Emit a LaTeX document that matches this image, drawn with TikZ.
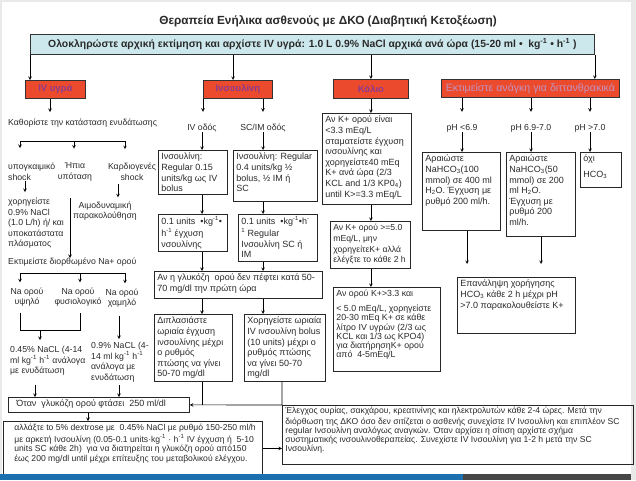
\documentclass[tikz,border=0pt]{standalone}
\usepackage{fontspec}
\setmainfont{Liberation Sans}
\usepackage{xcolor}
\usetikzlibrary{positioning,arrows.meta}

\definecolor{bannerblue}{HTML}{CDE8EC}
\definecolor{hdrred}{HTML}{EC4A2C}
\definecolor{hdrtext}{HTML}{8E3B8E}
\definecolor{bodytext}{HTML}{2A2A2A}
\definecolor{framegray}{HTML}{E9E9E9}
\definecolor{barblue}{HTML}{1C70AE}
\definecolor{bargray}{HTML}{474747}

\newcommand{\boxtxt}[3]{\parbox[t][#2][t]{#1}{\raggedright\strut #3}}

\begin{document}
\begin{tikzpicture}[
  x=1pt, y=-1pt,
  font=\fontsize{9}{10.6}\selectfont, text=bodytext,
  box/.style={draw=black!85, line width=0.8pt, anchor=north west, inner xsep=3pt, inner ysep=2pt},
  lbl/.style={anchor=north west, inner sep=0pt, align=left, font=\fontsize{8.7}{10.5}\selectfont},
  clbl/.style={inner sep=0pt, align=center, font=\fontsize{8.7}{10.5}\selectfont},
  hdr/.style={draw=black!80, line width=0.8pt, fill=hdrred, text=hdrtext, anchor=north west, inner sep=0pt, font=\bfseries\fontsize{9.5}{11}\selectfont},
  arr/.style={->, >=stealth, line width=0.6pt},
  link/.style={line width=0.6pt}
]
  \fill[framegray] (0,0) rectangle (636,480);
  \fill[white] (2,2) rectangle (631,474);
  \useasboundingbox (0,0) rectangle (636,480);

  \node[font=\bfseries\fontsize{11.8}{13}\selectfont] (title) at (328,21) {Θεραπεία Ενήλικα ασθενούς με ΔΚΟ (Διαβητική Κετοξέωση)};
  \node[draw=black!80, line width=0.8pt, fill=bannerblue, anchor=north west, minimum width=564pt, minimum height=20pt, inner sep=0pt, font=\bfseries\fontsize{10.4}{12}\selectfont] (banner) at (30,34) {Ολοκληρώστε αρχική εκτίμηση και αρχίστε IV υγρά: 1.0 L 0.9\% NaCl αρχικά ανά ώρα (15-20 ml •~ kg\textsuperscript{-1} • h\textsuperscript{-1} )};

  \node[hdr, minimum width=60pt, minimum height=18pt] (hiv) at (25,80) {IV υγρά};
  \node[hdr, minimum width=69pt, minimum height=18pt] (hins) at (203,80) {Ινσουλίνη};
  \node[hdr, minimum width=75pt, minimum height=19pt] (hk) at (333,79) {Κάλιο};
  \node[hdr, minimum width=178pt, minimum height=18pt, font=\fontsize{10.6}{12}\selectfont, text=hdrtext!55] (hbic) at (441,79) {Εκτιμείστε ανάγκη για διττανθρακικά};

  \foreach \n/\x in {gIV/50, gHypo/25, gMild/70, gCard/118, gHalf/35, gNorm/119, gDown/88, gBan/233, gBbA/467, gBbB/541}
    \coordinate (\n) at (\x,0);

  \node[lbl] (hyd) at (8,119) {Καθορίστε την κατάσταση ενυδάτωσης};
  \coordinate (t1) at (20,141);
  \coordinate (t2) at (74,141);
  \coordinate (t3) at (125,141);
  \node[lbl] (hypo) at (8,163) {υπογκαιμικό\\shock};
  \node[clbl] (mild) at (75,172) {Ήπια\\υπόταση};
  \node[clbl] (cardio) at (132,172) {Καρδιογενές\\shock};
  \node[lbl] (fluids) at (8,198) {χορηγείστε\\0.9\% NaCl\\(1.0 L/h) ή/ και\\υποκατάστατα\\πλάσματος};
  \node[clbl] (hemo) at (105,211) {Αιμοδυναμική\\παρακολούθηση};
  \node[lbl] (sodium) at (8,258) {Εκτιμείστε διορθωμένο Na+ ορού};
  \coordinate (s1) at (20,273);
  \coordinate (s2) at (80,273);
  \coordinate (s3) at (125,273);
  \node[clbl] (nahigh) at (27,297) {Na ορού\\υψηλό};
  \node[clbl] (nanorm) at (78,297) {Na ορού\\φυσιολογικό};
  \node[clbl] (nalow) at (122,298) {Na ορού\\χαμηλό};
  \coordinate (jn) at (40,330);
  \node[lbl] (half) at (10,346) {0.45\% NaCL (4-14\\ml kg\textsuperscript{-1} h\textsuperscript{-1} ανάλογα\\με ενυδάτωση};
  \node[lbl] (norm) at (91,342) {0.9\% NaCL (4-\\14 ml kg\textsuperscript{-1} h\textsuperscript{-1}\\ανάλογα με\\ενυδάτωση};
  \node[box] (when250) at (8,397) {\boxtxt{175pt}{11pt}{\hspace{5pt}Όταν~ γλυκόζη ορού φτάσει~ 250 ml/dl}};
  \node[box, font=\fontsize{8.6}{9.7}\selectfont] (dextrose) at (3,421) {\boxtxt{253pt}{50pt}{\leftskip=8pt αλλάξτε to 5\% dextrose με~ 0.45\% NaCl με ρυθμό 150-250 ml/h\\με αρκετή Ινσουλίνη (0.05-0.1 units·kg\textsuperscript{-1} · h\textsuperscript{-1} IV έγχυση ή~ 5-10\\units SC κάθε 2h)~ για να διατηρείται η γλυκόζη ορού από150\\έως 200 mg/dl until μέχρι επίτευξης του μεταβολικού ελέγχου.}};

  \node[clbl] (ivroute) at (202,128) {IV οδός};
  \node[clbl] (scroute) at (263,128) {SC/IM οδός};
  \node[box] (ivbolus) at (158,150) {\boxtxt{63pt}{40pt}{Ινσουλίνη:\\Regular 0.15\\units/kg ως IV\\bolus}};
  \node[box] (scbolus) at (233,150) {\boxtxt{78pt}{47pt}{Ινσουλίνη: Regular\\0.4 units/kg ½\\bolus, ½ IM ή\\SC}};
  \node[box] (ivinf) at (158,214) {\boxtxt{63pt}{33pt}{0.1 units~ •kg\textsuperscript{-1}•\\h\textsuperscript{-1} έγχυση\\νσουλίνης}};
  \node[box] (scinf) at (238,214) {\boxtxt{73pt}{43pt}{0.1 units~ •kg\textsuperscript{-1}•h\textsuperscript{-}\\\textsuperscript{1} Regular\\Ινσουλίνη SC ή\\IM}};
  \node[box] (glucdrop) at (154,271) {\boxtxt{162pt}{23pt}{Αν η γλυκόζη~ ορού δεν πέφτει κατά 50-\\70 mg/dl την πρώτη ώρα}};
  \node[box] (double) at (154,314) {\boxtxt{72pt}{63pt}{Διπλασιάστε\\ωριαία έγχυση\\ινσουλίνης μέχρι\\ο ρυθμός\\πτώσης να γίνει\\50-70 mg/dl}};
  \node[box] (bolus10) at (244,314) {\boxtxt{75pt}{63pt}{Χορηγείστε ωριαία\\IV ινσουλίνη bolus\\(10 units) μέχρι ο\\ρυθμός πτώσης\\να γίνει 50-70\\mg/dl}};
  \node[box, font=\fontsize{8.6}{9}\selectfont] (check) at (282,405) {\boxtxt{345pt}{55pt}{Έλεγχος ουρίας, σακχάρου, κρεατινίνης και ηλεκτρολυτών κάθε 2-4 ώρες. Μετά την\\διόρθωση της ΔΚΟ όσο δεν σιτίζεται ο ασθενής συνεχίστε IV Ινσουλίνη και επιπλέον SC\\regular Ινσουλίνη αναλόγως αναγκών. Όταν αρχίσει η σίτιση αρχίστε σχήμα\\συστηματικής ινσουλινοθεραπείας. Συνεχίστε IV Ινσουλίνη για 1-2 h μετά την SC\\Ινσουλίνη.}};

  \node[box] (k1) at (322,113) {\boxtxt{83pt}{87pt}{Αν K+ ορού είναι\\<3.3 mEq/L\\σταματείστε έγχυση\\ινσουλίνης και\\χορηγείστε40 mEq\\K+ ανά ώρα (2/3\\KCL and 1/3 KP0\textsubscript{4})\\until K>=3.3 mEq/L}};
  \node[box, font=\fontsize{8.6}{10.6}\selectfont] (k2) at (330,221) {\boxtxt{74pt}{43pt}{Αν K+ ορού >=5.0\\mEq/L, μην\\χορηγείτεK+ αλλά\\ελέγξτε το κάθε 2 h}};
  \node[box, font=\fontsize{8.8}{9.3}\selectfont] (k3) at (333,287) {\boxtxt{101pt}{80pt}{Αν ορού K+>3.3 και\\[5pt]< 5.0 mEq/L, χορηγείστε\\20-30 mEq K+ σε κάθε\\λίτρο IV υγρών (2/3 ως\\KCL και 1/3 ως KPO4)\\για διατήρησηK+ ορού\\από~ 4-5mEq/L}};

  \node[clbl] (phA) at (462,128) {pH <6.9};
  \node[clbl] (phB) at (531,128) {pH 6.9-7.0};
  \node[clbl] (phC) at (590,128) {pH >7.0};
  \node[box] (b1) at (422,152) {\boxtxt{72pt}{74pt}{Αραιώστε\\NaHCO\textsubscript{3}(100\\mmol) σε 400 ml\\H\textsubscript{2}O. Έγχυση με\\ρυθμό 200 ml/h.}};
  \node[box] (b2) at (506,152) {\boxtxt{63pt}{80pt}{Αραιώστε\\NaHCO\textsubscript{3}(50\\mmol) σε 200\\ml H\textsubscript{2}O.\\Έγχυση με\\ρυθμό 200\\ml/h.}};
  \node[box] (b3) at (580,152) {\boxtxt{35pt}{31pt}{όχι\\[5pt]HCO\textsubscript{3}}};
  \node[box] (b4) at (457,277) {\boxtxt{112pt}{52pt}{Επανάληψη χορήγησης\\HCO\textsubscript{3} κάθε 2 h μέχρι pH\\>7.0 παρακολουθείστε K+}};

  \draw[arr] (banner.south west) -- (banner.south west |- hiv.north);
  \draw[arr] (banner.south -| gBan) -- (hins.north -| gBan);
  \draw[arr] (banner.south -| hk) -- (hk.north);
  \draw[arr] (banner.south east) -- (banner.south east |- hbic.north);

  \draw[arr, shorten >=7pt] (hiv.south -| gIV) -- (hyd.north -| gIV);
  \draw[link] (t1) -- (t3);
  \draw[arr, shorten >=15pt] (t1) -- (t1 |- hypo.north);
  \draw[arr, shorten >=14pt] (t2) -- (t2 |- mild.north);
  \draw[arr, shorten >=14pt] (t3) -- (t3 |- cardio.north);
  \draw[arr, shorten >=6pt] (hypo.south -| gHypo) -- (fluids.north -| gHypo);
  \draw[arr, shorten <=17pt] (mild.south -| gMild) -- (sodium.north -| gMild);
  \draw[arr, shorten <=3pt, shorten >=4pt] (cardio.south -| gCard) -- (hemo.north -| gCard);
  \draw[link] (s1) -- (s3);
  \draw[arr, shorten >=5pt] (s1) -- (s1 |- nahigh.north);
  \draw[arr, shorten >=5pt] (s2) -- (s2 |- nanorm.north);
  \draw[arr, shorten >=5pt] (s3) -- (s3 |- nalow.north);
  \draw[link, shorten <=6pt, shorten >=6pt] (nahigh.south -| s1) -- (s1 |- jn) -- (s2 |- jn) -- (nanorm.south -| s2);
  \draw[arr, shorten >=6pt] (jn) -- (jn |- half.north);
  \draw[arr, shorten <=8pt, shorten >=3pt] (nalow.south -| gNorm) -- (norm.north -| gNorm);
  \draw[arr, shorten <=9pt] (half.south -| gHalf) -- (when250.north -| gHalf);
  \draw[arr, shorten <=3pt] (norm.south -| gNorm) -- (when250.north -| gNorm);
  \draw[arr] (when250.south -| gDown) -- (dextrose.north -| gDown);

  \draw[arr, shorten >=12pt] (hins.south west) -- (hins.south west |- ivroute.north);
  \draw[arr, shorten >=12pt] (hins.south -| scroute) -- (scroute.north);
  \draw[arr] (ivroute.south) -- (ivroute.south |- ivbolus.north);
  \draw[arr] (scroute.south) -- (scroute.south |- scbolus.north);
  \draw[arr] (ivbolus.south -| ivroute) -- (ivinf.north -| ivroute);
  \draw[arr] (scbolus.south -| scroute) -- (scinf.north -| scroute);
  \draw[arr] (ivinf.south -| ivroute) -- (glucdrop.north -| ivroute);
  \draw[arr] (scinf.south -| scroute) -- (glucdrop.north -| scroute);
  \draw[arr] (glucdrop.south -| ivroute) -- (double.north -| ivroute);
  \draw[arr] (glucdrop.south -| scroute) -- (bolus10.north -| scroute);
  \draw[link] (double.south -| ivroute) -- (check.north -| ivroute);
  \draw[arr] (bolus10.south -| check.north west) -- (check.north west) -- (when250.east);
  \draw[arr] (dextrose.east) -- (dextrose.east -| check.west);

  \draw[arr] (hk.south) -- (hk.south |- k1.north);
  \draw[arr] (k1.south -| hk) -- (k2.north -| hk);
  \draw[arr] (k2.south -| hk) -- (k3.north -| hk);

  \draw[arr, shorten >=12pt] (hbic.south -| phA) -- (phA.north);
  \draw[arr, shorten >=12pt] (hbic.south -| phB) -- (phB.north);
  \draw[arr, shorten >=12pt] (hbic.south -| phC) -- (phC.north);
  \draw[arr] (phA.south) -- (phA.south |- b1.north);
  \draw[arr] (phB.south) -- (phB.south |- b2.north);
  \draw[arr] (phC.south) -- (phC.south |- b3.north);
  \draw[arr, shorten >=13pt] (b1.south -| gBbA) -- (b4.north -| gBbA);
  \draw[arr, shorten >=13pt] (b2.south -| gBbB) -- (b4.north -| gBbB);

  \fill[barblue] (0,474) rectangle (463,480);
  \fill[bargray] (463,474) rectangle (631,480);
\end{tikzpicture}
\end{document}
